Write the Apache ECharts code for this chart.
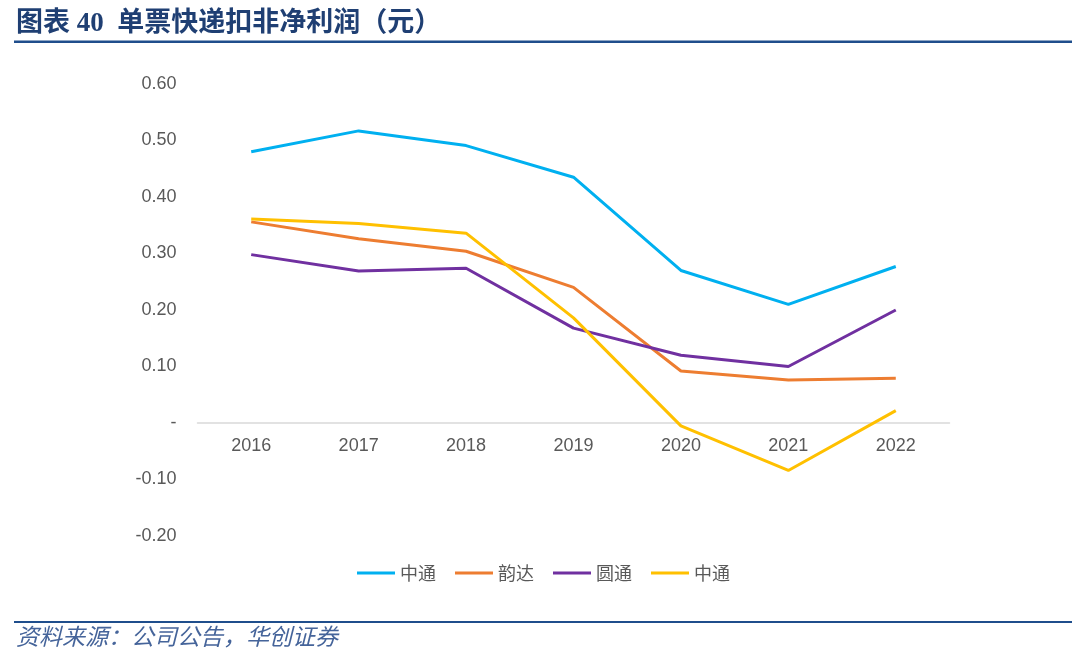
<!DOCTYPE html>
<html><head><meta charset="utf-8">
<script src="https://cdn.jsdelivr.net/npm/echarts@6/dist/echarts.min.js"></script>
<style>html,body{margin:0;padding:0;background:#fff}#c{width:1080px;height:659px}</style>
</head><body><div id="c"></div>
<script>
const years = ['2016','2017','2018','2019','2020','2021','2022'];
const ztoA = [0.480, 0.517, 0.491, 0.435, 0.270, 0.210, 0.277];
const yunda = [0.356, 0.326, 0.304, 0.240, 0.092, 0.076, 0.079];
const yto = [0.298, 0.269, 0.274, 0.168, 0.120, 0.100, 0.200];
const ztoB = [0.361, 0.353, 0.336, 0.186, -0.005, -0.084, 0.022];
const seriesNames = ['中通','韵达','圆通','中通'];
const colors = ['#00b0f0','#ed7d31','#7030a0','#ffc000'];
const yTicks = {min:-0.2, max:0.6, interval:0.1};

const chart = echarts.init(document.getElementById('c'));
const mk = (name, data, color) => ({
  name, type:'line', data, symbol:'none', smooth:false,
  lineStyle:{width:3, color}, itemStyle:{color}
});
const allData = [ztoA, yunda, yto, ztoB];
const gridTop = 84, gridBottom = 123, plotH = 659 - gridTop - gridBottom;
const zeroOffset = -plotH * (0 - yTicks.min) / (yTicks.max - yTicks.min);
chart.setOption({
  animation:false,
  grid:{left:197.5, right:130.5, top:gridTop, bottom:gridBottom},
  legend:{
    top:559, left:352, itemWidth:38, itemHeight:10, itemGap:19,
    textStyle:{fontSize:18, color:'#595959', fontFamily:'Noto Sans CJK SC'},
    data:[0,1,2,3].map(i=>({name:seriesNames[i]+(i===3?' ':''), icon:'path://M0,0H38V3H0Z'}))
  },
  xAxis:{
    type:'category', data:years, boundaryGap:true, offset:zeroOffset,
    axisLine:{onZero:false, lineStyle:{color:'#d9d9d9', width:1.5}},
    axisTick:{show:false},
    axisLabel:{fontSize:18, color:'#595959', margin:14, fontFamily:'Liberation Sans'}
  },
  yAxis:{
    type:'value', min:yTicks.min, max:yTicks.max, interval:yTicks.interval,
    splitLine:{show:false}, axisLine:{show:false}, axisTick:{show:false},
    axisLabel:{fontSize:18, color:'#595959', margin:21, fontFamily:'Liberation Sans',
      formatter:v=>Math.abs(v)<1e-9?'-':v.toFixed(2)}
  },
  series:allData.map((d,i)=>mk(seriesNames[i]+(i===3?' ':''), d, colors[i])),
  graphic:[
    {type:'text', left:16, top:11, style:{text:'图表 40  单票快递扣非净利润（元）', fontSize:27, fontWeight:'bold',
      fill:'#1f3f73', fontFamily:'Liberation Serif, Noto Sans CJK SC'}},
    {type:'rect', shape:{x:14, y:40.5, width:1058, height:2.5}, style:{fill:'#1f4e8c'}},
    {type:'rect', shape:{x:14, y:621, width:1058, height:2}, style:{fill:'#1f4e8c'}},
    {type:'text', left:16, top:625, style:{text:'资料来源：公司公告，华创证券', fontSize:23, fontStyle:'italic',
      fill:'#45649a', fontFamily:'Noto Sans CJK SC'}}
  ]
});
</script></body></html>
